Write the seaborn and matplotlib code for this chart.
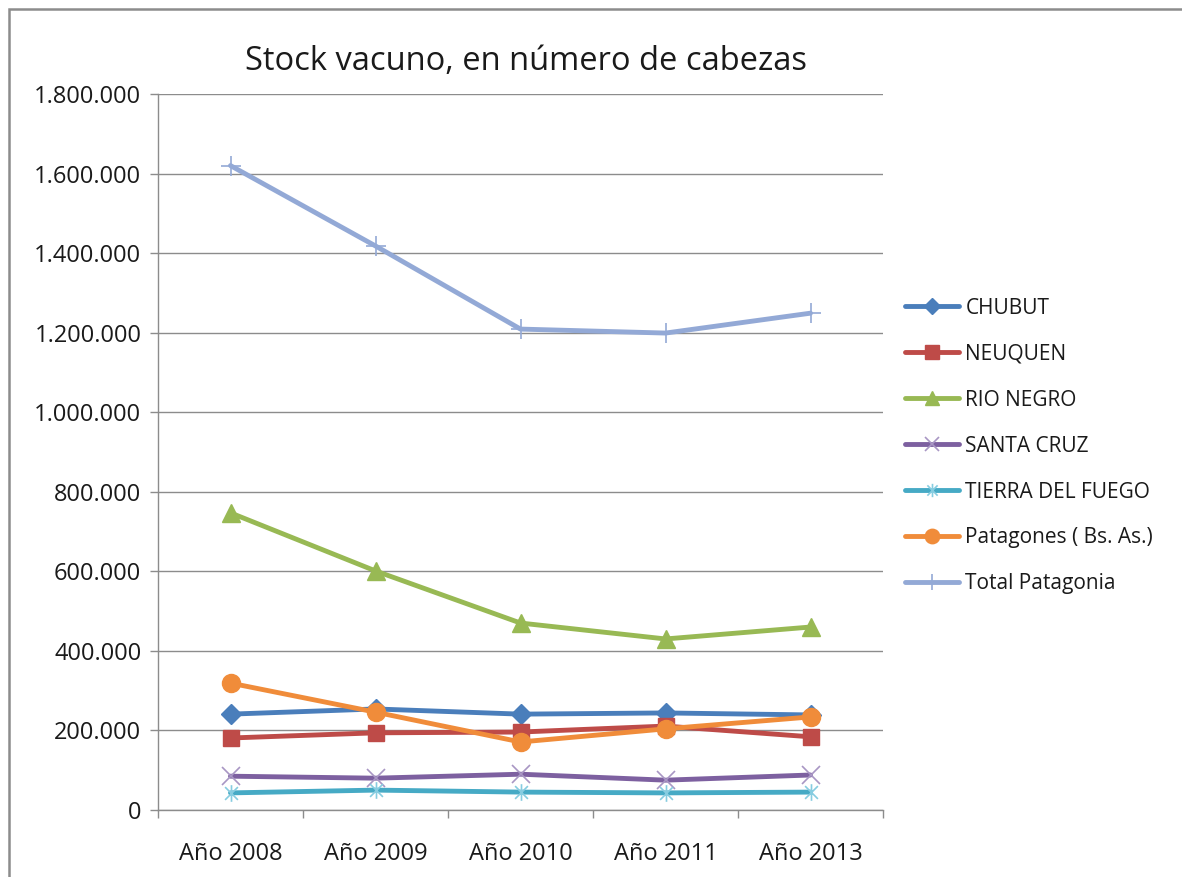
import matplotlib
matplotlib.use("Agg")
import matplotlib.pyplot as plt
from matplotlib.path import Path
from matplotlib.patches import Rectangle
from matplotlib.ticker import FuncFormatter, FixedLocator
import pandas as pd
import seaborn as sns

# datos
anios = ["Año 2008", "Año 2009", "Año 2010", "Año 2011", "Año 2013"]
chubut = [241000, 254000, 241000, 244000, 239000]
neuquen = [181000, 194000, 196000, 211000, 184000]
rio_negro = [747000, 601000, 470000, 430000, 460000]
santa_cruz = [85000, 80000, 90000, 75000, 88000]
tierra_del_fuego = [43000, 50000, 45000, 43000, 45000]
patagones = [319000, 246000, 171000, 204000, 234000]
total_patagonia = [1620000, 1418000, 1209000, 1199000, 1249000]

series = ["CHUBUT", "NEUQUEN", "RIO NEGRO", "SANTA CRUZ", "TIERRA DEL FUEGO",
          "Patagones ( Bs. As.)", "Total Patagonia"]
valores = [chubut, neuquen, rio_negro, santa_cruz, tierra_del_fuego, patagones, total_patagonia]

# marcador "estrella" de Excel: X con barra vertical
estrella = Path([(-1, -1), (1, 1), (-1, 1), (1, -1), (0, -1.3), (0, 1.3)],
                [Path.MOVETO, Path.LINETO, Path.MOVETO, Path.LINETO, Path.MOVETO, Path.LINETO])

estilos = {
    "CHUBUT": dict(color="#4A7EBB", marker="D", ms=10, mec="#4A7EBB", mew=1),
    "NEUQUEN": dict(color="#BE4B48", marker="s", ms=12, mec="#BE4B48", mew=1),
    "RIO NEGRO": dict(color="#98B954", marker="^", ms=13, mec="#98B954", mew=1),
    "SANTA CRUZ": dict(color="#7D60A0", marker="x", ms=13, mec="#A896C4", mew=1.2),
    "TIERRA DEL FUEGO": dict(color="#46AAC5", marker=estrella, ms=12, mec="#86CCE0", mew=1.2),
    "Patagones ( Bs. As.)": dict(color="#F08C3A", marker="o", ms=13, mec="#F08C3A", mew=1),
    "Total Patagonia": dict(color="#93A9D6", marker="+", ms=14, mec="#93A9D6", mew=1.2),
}

registros = []
for nombre, vals in zip(series, valores):
    for anio, v in zip(anios, vals):
        registros.append({"Año": anio, "Serie": nombre, "Cabezas": v})
df = pd.DataFrame(registros)

sns.set_theme(style="white")
plt.rcParams["font.family"] = ["Open Sans", "DejaVu Sans"]

fig = plt.figure(figsize=(11.82, 8.77), dpi=100)
ax = fig.add_axes([158 / 1182, 1 - 810 / 877, 725 / 1182, 716 / 877])

lineas = []
for nombre in series:
    st = estilos[nombre]
    sub = df[df["Serie"] == nombre]
    sns.lineplot(data=sub, x="Año", y="Cabezas", ax=ax, color=st["color"], linewidth=3.5,
                 marker=st["marker"], markersize=st["ms"], markeredgecolor=st["mec"],
                 markeredgewidth=st["mew"], markerfacecolor=st["color"], sort=False,
                 label=nombre, legend=False)
    lineas.append(ax.lines[-1])

ax.set_xlim(-0.5, 4.5)
ax.set_ylim(0, 1800000)
ax.yaxis.set_major_locator(FixedLocator(range(0, 1800001, 200000)))
ax.yaxis.set_major_formatter(FuncFormatter(lambda v, p: f"{int(v):,}".replace(",", ".")))
ax.set_xticks(range(len(anios)))
ax.set_xticklabels(anios)
ax.xaxis.set_minor_locator(FixedLocator([i - 0.5 for i in range(len(anios) + 1)]))
ax.set_xlabel("")
ax.set_ylabel("")

ax.grid(axis="y", color="#8C8C8C", linewidth=1.0)
ax.grid(axis="x", visible=False)
ax.set_axisbelow(True)
for lado in ["top", "right"]:
    ax.spines[lado].set_visible(False)
for lado in ["left", "bottom"]:
    ax.spines[lado].set_color("#8C8C8C")
    ax.spines[lado].set_linewidth(1.0)

ax.tick_params(axis="y", which="major", left=True, length=6, width=1, color="#8C8C8C",
               labelsize=17, labelcolor="#1A1A1A", pad=6)
ax.tick_params(axis="x", which="major", bottom=False, length=0, labelsize=17,
               labelcolor="#1A1A1A", pad=23)
ax.tick_params(axis="x", which="minor", bottom=True, length=6, width=1, color="#8C8C8C")

fig.text(526 / 1182, 1 - 61 / 877, "Stock vacuno, en número de cabezas",
         ha="center", va="center", fontsize=23.5, color="#1A1A1A")

fig.legend(handles=lineas, labels=series, loc="center left",
           bbox_to_anchor=(905 / 1182, 1 - 446 / 877), frameon=False,
           fontsize=15, handlelength=2.6, handletextpad=0.3, labelspacing=1.2,
           borderpad=0, borderaxespad=0, markerscale=0.8, labelcolor="#1A1A1A")

# marco exterior del gráfico
fig.patches.append(Rectangle((9 / 1182, -0.1), 1.2, 1.1 - 9 / 877, transform=fig.transFigure,
                             fill=False, edgecolor="#8C8C8C", linewidth=1.8))

fig.savefig("out.png", dpi=100, facecolor="white")
